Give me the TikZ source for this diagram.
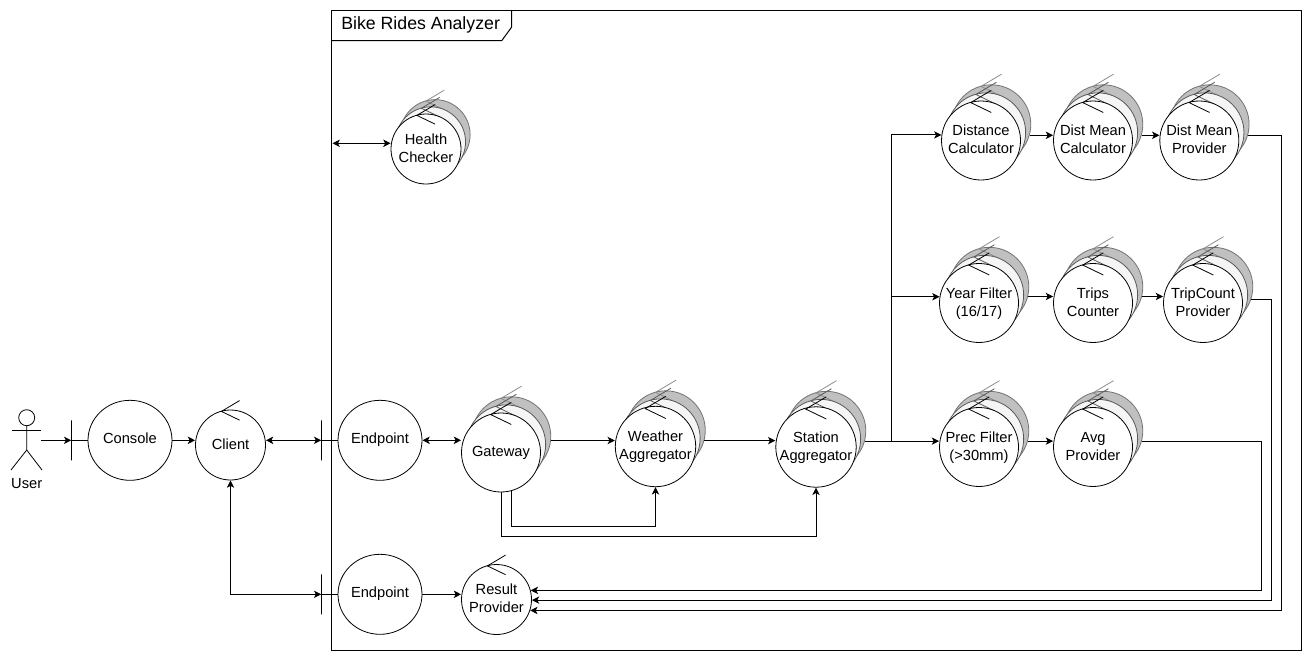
\documentclass[tikz,border=0pt]{standalone}
\usepackage{fontspec}
\setmainfont{Liberation Sans}
\usetikzlibrary{arrows.meta}
\usetikzlibrary{shapes.geometric}
\definecolor{backfill}{HTML}{C0C0C0}
\definecolor{midfill}{HTML}{F5F5F5}
\tikzset{
	x=0.75pt, y=-0.75pt,
	flow/.style={-{Stealth[length=5.5pt,width=5.5pt,inset=1.4pt]}, line width=0.75pt},
	duplex/.style={{Stealth[length=5.5pt,width=5.5pt,inset=1.4pt]}-{Stealth[length=5.5pt,width=5.5pt,inset=1.4pt]}, line width=0.75pt},
	plain/.style={line width=0.75pt},
	caption/.style={font=\fontsize{11}{13.5}\selectfont, align=center},
	ctrl/.style={circle, draw, fill=white, inner sep=0pt, line width=0.6pt, caption},
	boundary/.style={ellipse, draw, fill=white, inner sep=0pt, line width=0.6pt, minimum width=63pt, minimum height=60pt, caption},
	bar/.style={draw, inner sep=0pt, minimum width=0pt, minimum height=30pt, line width=0.6pt},
}
% evens out the text box: height, text
\newcommand{\lift}[2]{\rule{0pt}{#1pt}#2\rule[-3pt]{0pt}{3pt}}
% chevron on top of a circle: x, y, radius, colour
\newcommand{\chevron}[4]{
	\draw[#4, line width=0.6pt] ({#1+.26*#3},{#2-1.27*#3}) -- ({#1-.26*#3},{#2-.96*#3}) -- ({#1+.26*#3},{#2-.71*#3});
}
% single control circle: name, x, y, radius, text
\newcommand{\single}[5]{
	\node[ctrl, minimum size=#4*1.5pt] (#1) at (#2,#3) {\lift{9.7}{#5}};
	\chevron{#2}{#3}{#4}{black}
}
% stack of three: name, x, y, radius, text
\newcommand{\stacked}[5]{
	\node[circle, draw=black!55, fill=backfill, inner sep=0pt, line width=0.6pt, minimum size=#4*1.5pt] (#1b) at ({#2+.26*#4},{#3-.41*#4}) {};
	\chevron{#2+.26*#4}{#3-.41*#4}{#4}{black!45}
	\node[circle, draw=black!65, fill=midfill, inner sep=0pt, line width=0.6pt, minimum size=#4*1.5pt] (#1m) at ({#2+.13*#4},{#3-.205*#4}) {};
	\chevron{#2+.13*#4}{#3-.205*#4}{#4}{black!65}
	\single{#1}{#2}{#3}{#4}{#5}
}
\begin{document}
\begin{tikzpicture}
	\useasboundingbox (0,0) rectangle (1312,661);

	% frame
	\draw[plain] (331.7,10.7) rectangle (1301.7,650.3);
	\draw[plain] (331.7,40.7) -- (501.7,40.7) -- (511.7,27) -- (511.7,10.7);
	\node[anchor=west, inner sep=0pt, font=\fontsize{13.3}{16}\selectfont] (title) at (341,24.5) {Bike Rides Analyzer};

	% user
	\node[circle, draw, inner sep=0pt, minimum size=12pt, line width=0.6pt] (head) at (26.7,417.7) {};
	\draw[line width=0.6pt] (head.south) -- (26.7,450) -- (11,470);
	\draw[line width=0.6pt] (26.7,450) -- (42,470);
	\draw[line width=0.6pt] (11.7,430.3) -- (41.3,430.3);
	\node[caption] (user) at (26.7,484) {User};
	\coordinate (userout) at (41,440.3);

	% boundaries
	\node[bar] (consolebar) at (71.7,440.3) {};
	\node[boundary] (console) at (130,440.3) {\lift{8.5}{Console}};
	\node[bar] (endbarA) at (321.7,440.3) {};
	\node[boundary] (endpointA) at (380,440.3) {\lift{8.5}{Endpoint}};
	\node[bar] (endbarB) at (321.7,594.3) {};
	\node[boundary] (endpointB) at (380,594.3) {\lift{8.5}{Endpoint}};

	% controls
	\single{client}{230.5}{445}{35}{Client}
	\single{result}{496.5}{599.5}{35}{Result\\Provider}
	\stacked{health}{426}{149}{35}{Health\\Checker}
	\stacked{gateway}{501}{452.5}{39.5}{Gateway}
	\stacked{weather}{655.5}{446.5}{39.5}{Weather\\Aggregator}
	\stacked{station}{816}{447}{39.5}{Station\\Aggregator}
	\stacked{distance}{981}{140.5}{39.5}{Distance\\Calculator}
	\stacked{meancalc}{1093}{140.5}{39.5}{Dist Mean\\Calculator}
	\stacked{meanprov}{1199.3}{140.5}{39.5}{Dist Mean\\Provider}
	\stacked{year}{979}{303}{39.5}{Year Filter\\(16/17)}
	\stacked{trips}{1093}{303}{39.5}{Trips\\Counter}
	\stacked{tripprov}{1203}{303}{39.5}{TripCount\\Provider}
	\stacked{prec}{979}{447}{39.5}{Prec Filter\\(>30mm)}
	\stacked{avg}{1093}{447}{39.5}{Avg\\Provider}

	% helpers
	\coordinate (healthport) at (332.5,143.3);
	\coordinate (branch) at (891,441);
	\coordinate (busA) at (0,526);
	\coordinate (busB) at (0,536);
	\coordinate (backA) at (1261.7,0);
	\coordinate (backB) at (1271.7,0);
	\coordinate (backC) at (1281.7,0);

	% left side
	\draw[flow] (userout) -- (consolebar);
	\draw[plain] (consolebar) -- (console);
	\draw[flow] (console) -- (console -| client.west);
	\draw[duplex] (endbarA -| client.east) -- (endbarA);
	\draw[plain] (endbarA) -- (endpointA);
	\draw[duplex] (client.south) |- (endbarB);
	\draw[plain] (endbarB) -- (endpointB);
	\draw[flow] (endpointB) -- (endpointB -| result.west);
	\draw[duplex] (endpointA.east) -- (endpointA.east -| gateway.west);
	\draw[duplex] (healthport) -- (healthport -| health.west);

	% pipeline
	\draw[flow] (gatewayb.-6) -- (gatewayb.-6 -| weather.west);
	\draw[flow] (weatherb.-15) -- (weatherb.-15 -| station.west);
	\draw[flow] (stationb.-15) -- (stationb.-15 -| prec.west);
	\draw[flow] (gateway.-75) |- (weather.south |- busA) -- (weather.south);
	\draw[flow] (gateway.south) |- (station.south |- busB) -- (station.south);
	\draw[flow] (branch) |- (distance.172);
	\draw[flow] (branch) |- (year.171);

	% rows
	\draw[flow] (distanceb.-16) -- (distanceb.-16 -| meancalc.west);
	\draw[flow] (meancalcb.-16) -- (meancalcb.-16 -| meanprov.west);
	\draw[flow] (yearb.-14) -- (yearb.-14 -| trips.west);
	\draw[flow] (tripsb.-14) -- (tripsb.-14 -| tripprov.west);
	\draw[flow] (precb.-15) -- (precb.-15 -| avg.west);

	% back to the result provider
	\draw[flow] (avgb.-15) -| (backA |- result.15) -- (result.15);
	\draw[flow] (tripprovb.-19) -| (backB |- result.-1) -- (result.-1);
	\draw[flow] (meanprovb.-16) -| (backC |- result.-18) -- (result.-18);
\end{tikzpicture}
\end{document}
